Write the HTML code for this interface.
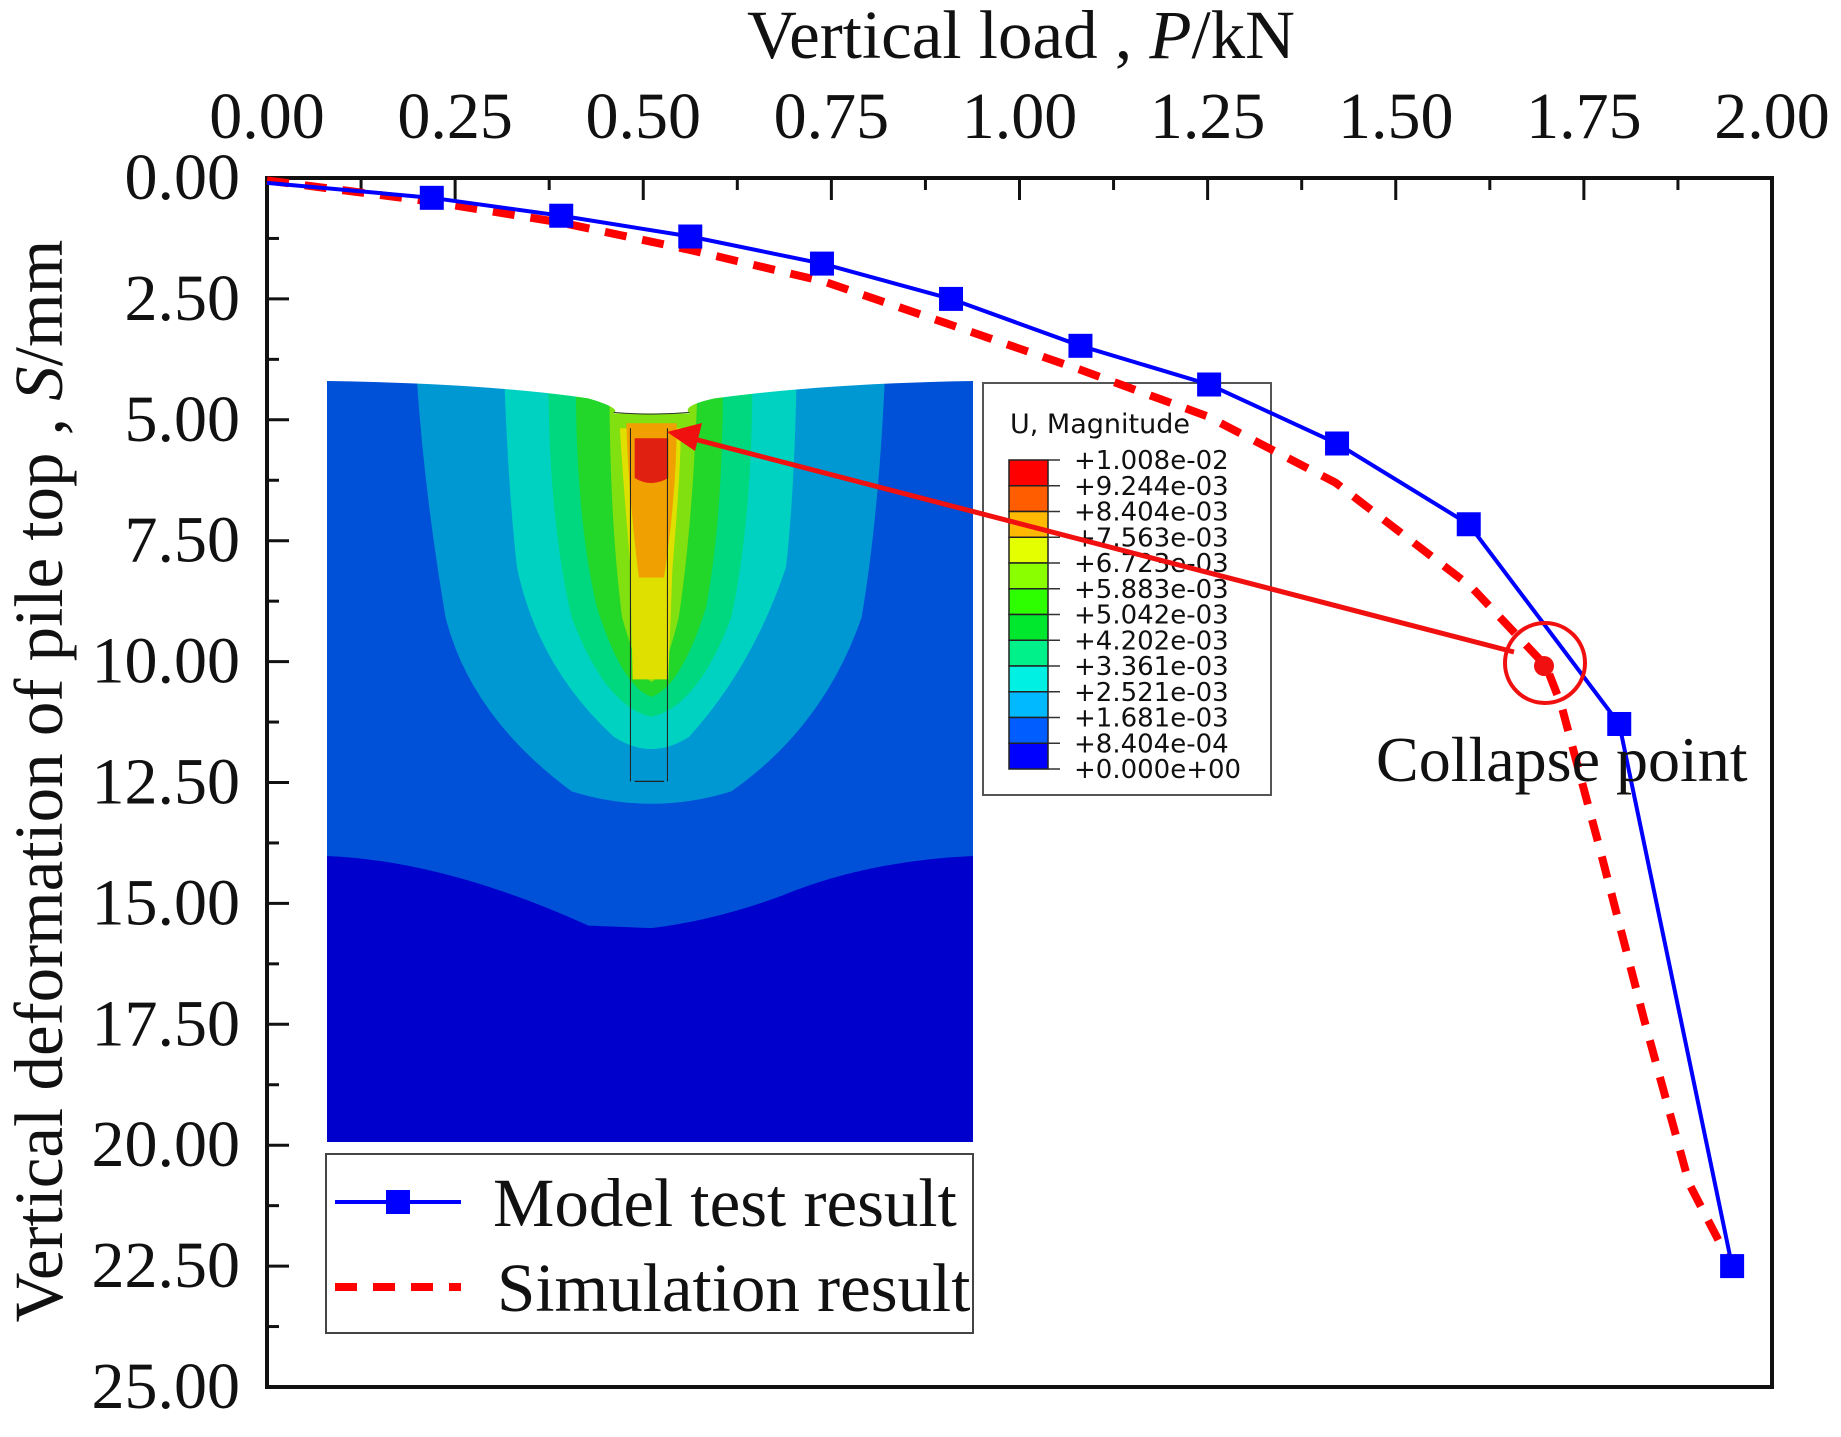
<!DOCTYPE html>
<html><head><meta charset="utf-8"><style>
html,body{margin:0;padding:0;background:#fff}
svg{display:block}
text{font-family:"Liberation Serif",serif;fill:#111}
.fe{font-family:"DejaVu Sans","Liberation Sans",sans-serif}
</style></head><body>
<svg id="chart" width="1841" height="1437" viewBox="0 0 1841 1437" xmlns="http://www.w3.org/2000/svg">
<g id="inset">
<svg x="327" y="381" width="646" height="761" viewBox="18 25 1537 1530" preserveAspectRatio="none">
<rect x="18" y="25" width="1537" height="1530" fill="#0050d8"/>
<path d="M18 980 Q300 990 640 1120 L790 1125 Q940 1110 1100 1060 Q1300 990 1555 980 L1555 1555 L18 1555 Z" fill="#0000cc"/>
<path d="M232 25 Q250 250 300 500 Q360 700 600 850 Q790 900 980 850 Q1200 720 1290 500 Q1330 300 1345 25 Z" fill="#0098d2"/>
<path d="M440 25 Q450 250 470 400 Q520 600 700 740 Q790 790 880 740 Q1030 600 1110 400 Q1130 250 1135 25 Z" fill="#00d2c2"/>
<path d="M545 25 Q545 300 600 500 Q680 680 790 700 Q900 680 980 500 Q1030 300 1030 25 Z" fill="#00d880"/>
<path d="M610 25 Q610 300 660 480 Q720 640 790 660 Q860 640 920 480 Q960 300 960 25 Z" fill="#22d62a"/>
<path d="M690 25 Q690 300 720 500 Q760 620 790 630 Q820 620 855 500 Q890 300 900 25 Z" fill="#80e010"/>
<path d="M715 120 Q720 200 740 400 L745 625 L830 625 L840 400 Q860 200 860 120 Z" fill="#e0e000"/>
<path d="M730 110 Q735 250 760 420 L820 420 Q850 250 850 110 Z" fill="#f0a000"/>
<path d="M750 140 L750 220 Q790 240 830 220 L830 140 Z" fill="#e02010"/>
<path d="M18 18 L18 25 Q400 30 640 60 Q720 80 700 90 L880 90 Q860 75 940 60 Q1200 30 1555 25 L1555 18 Z" fill="#fff"/>
<path d="M700 88 Q790 95 880 88" stroke="#333" stroke-width="2" fill="none"/>
<path d="M740 120 L740 830 M828 120 L828 830 M750 830 L820 830" stroke="#222" stroke-width="2.5" fill="none"/>
</svg>
</g>
<g id="felegend">
<rect x="983" y="383" width="288" height="412" fill="#fff" stroke="#555" stroke-width="2"/>
<text class="fe" x="1010" y="433" font-size="27">U, Magnitude</text>
<g id="bands"></g>
</g>
<g id="axes"></g>
<g id="series"></g>
<g>
<line x1="1514" y1="652" x2="690" y2="438" stroke="#f01010" stroke-width="5"/>
<polygon points="667,432 702,423 695,451" fill="#f01010"/>
<circle cx="1545" cy="663" r="40" fill="none" stroke="#f01010" stroke-width="4"/>
<circle cx="1544" cy="666" r="10" fill="#f01010"/>
<text x="1376" y="781" font-size="64">Collapse point</text>
</g>
<g>
<rect x="326" y="1154" width="647" height="179" fill="#fff" stroke="#444" stroke-width="2"/>
<line x1="335" y1="1202" x2="461" y2="1202" stroke="#0000ff" stroke-width="4"/>
<rect x="386" y="1190" width="24" height="24" fill="#0000ff"/>
<text x="493" y="1226" font-size="69">Model test result</text>
<line x1="335" y1="1287" x2="461" y2="1287" stroke="#ff0000" stroke-width="8" stroke-dasharray="22 16"/>
<text x="497" y="1311" font-size="69">Simulation result</text>
</g>
<text x="1021" y="58" font-size="69" text-anchor="middle">Vertical load , <tspan font-style="italic">P</tspan>/kN</text>
<text transform="translate(62,781) rotate(-90)" font-size="69" text-anchor="middle">Vertical deformation of pile top , <tspan font-style="italic">S</tspan>/mm</text>
</svg>
<script>
const xTicks=[0,0.25,0.5,0.75,1.0,1.25,1.5,1.75,2.0];
const yTicks=[0,2.5,5,7.5,10,12.5,15,17.5,20,22.5,25];
const modelP=[0,0.219,0.391,0.5625,0.7375,0.909,1.081,1.252,1.422,1.597,1.797,1.947];
const modelS=[0.1,0.41,0.78,1.21,1.77,2.5,3.47,4.27,5.49,7.16,11.29,22.5];
const simP=[0,0.219,0.39,0.56,0.74,0.9,1.08,1.25,1.42,1.6,1.7,1.72,1.77,1.83,1.89,1.94];
const simS=[0.05,0.49,0.92,1.48,2.14,2.99,3.96,4.93,6.3,8.45,10.1,10.9,13.8,17.4,20.8,22.3];
const feLabels=["+1.008e-02","+9.244e-03","+8.404e-03","+7.563e-03","+6.723e-03","+5.883e-03","+5.042e-03","+4.202e-03","+3.361e-03","+2.521e-03","+1.681e-03","+8.404e-04","+0.000e+00"];
const feColors=["#ff0000","#ff5d00","#ffb900","#e4ff00","#8aff00","#2eff00","#00e82e","#00f08a","#00f0e4","#00b9ff","#005dff","#0000ff"];
const NS="http://www.w3.org/2000/svg";
const L=267,T=178,R=1772,B=1387;
const X=v=>L+v/2*(R-L);
const Y=v=>T+v/25*(B-T);
function mk(tag,attrs,parent){const e=document.createElementNS(NS,tag);for(const k in attrs)e.setAttribute(k,attrs[k]);parent.appendChild(e);return e;}
const axes=document.getElementById('axes');
const frame=mk('rect',{x:L,y:T,width:R-L,height:B-T,fill:'none',stroke:'#111','stroke-width':4},axes);


xTicks.forEach((v,i)=>{
  const t=mk('line',{x1:X(v),y1:T,x2:X(v),y2:T+22,stroke:'#111','stroke-width':3},axes);
  
  
  if(i<xTicks.length-1){const m=mk('line',{x1:X(v+0.125),y1:T,x2:X(v+0.125),y2:T+12,stroke:'#111','stroke-width':3},axes);
  
  }
  const lb=mk('text',{x:X(v),y:138,'font-size':66,'text-anchor':'middle'},axes);
  lb.textContent=v.toFixed(2);
  
  
});
yTicks.forEach((v,i)=>{
  const t=mk('line',{x1:L,y1:Y(v),x2:L+22,y2:Y(v),stroke:'#111','stroke-width':3},axes);
  
  
  if(i<yTicks.length-1){const m=mk('line',{x1:L,y1:Y(v+1.25),x2:L+12,y2:Y(v+1.25),stroke:'#111','stroke-width':3},axes);
  
  }
  const lb=mk('text',{x:240,y:Y(v)+21,'font-size':66,'text-anchor':'end'},axes);
  lb.textContent=v.toFixed(2);
  
  
});
const series=document.getElementById('series');
const sim=mk('polyline',{points:simP.map((p,i)=>X(p)+','+Y(simS[i])).join(' '),fill:'none',stroke:'#ff0000','stroke-width':8,'stroke-dasharray':'22 16'},series);


const mod=mk('polyline',{points:modelP.map((p,i)=>X(p)+','+Y(modelS[i])).join(' '),fill:'none',stroke:'#0000ff','stroke-width':4},series);


modelP.forEach((p,i)=>{if(i===0)return;
  const r=mk('rect',{x:X(p)-12,y:Y(modelS[i])-12,width:24,height:24,fill:'#0000ff'},series);
  
  
});
const bands=document.getElementById('bands');
const bx=1009,bw=39,by=460,bh=(769-460)/feColors.length;
feColors.forEach((c,i)=>{
  const r=mk('rect',{x:bx,y:by+i*bh,width:bw,height:bh,fill:c,stroke:'#222','stroke-width':1.5},bands);
  
  
});
feLabels.forEach((s,i)=>{
  const yy=by+i*bh;
  mk('line',{x1:bx+bw,y1:yy,x2:1060,y2:yy,stroke:'#333','stroke-width':1.5},bands);
  const t=mk('text',{x:1074,y:yy+9,'font-size':26,class:'fe'},bands);
  t.textContent=s;
  
  
});
</script>
</body></html>
